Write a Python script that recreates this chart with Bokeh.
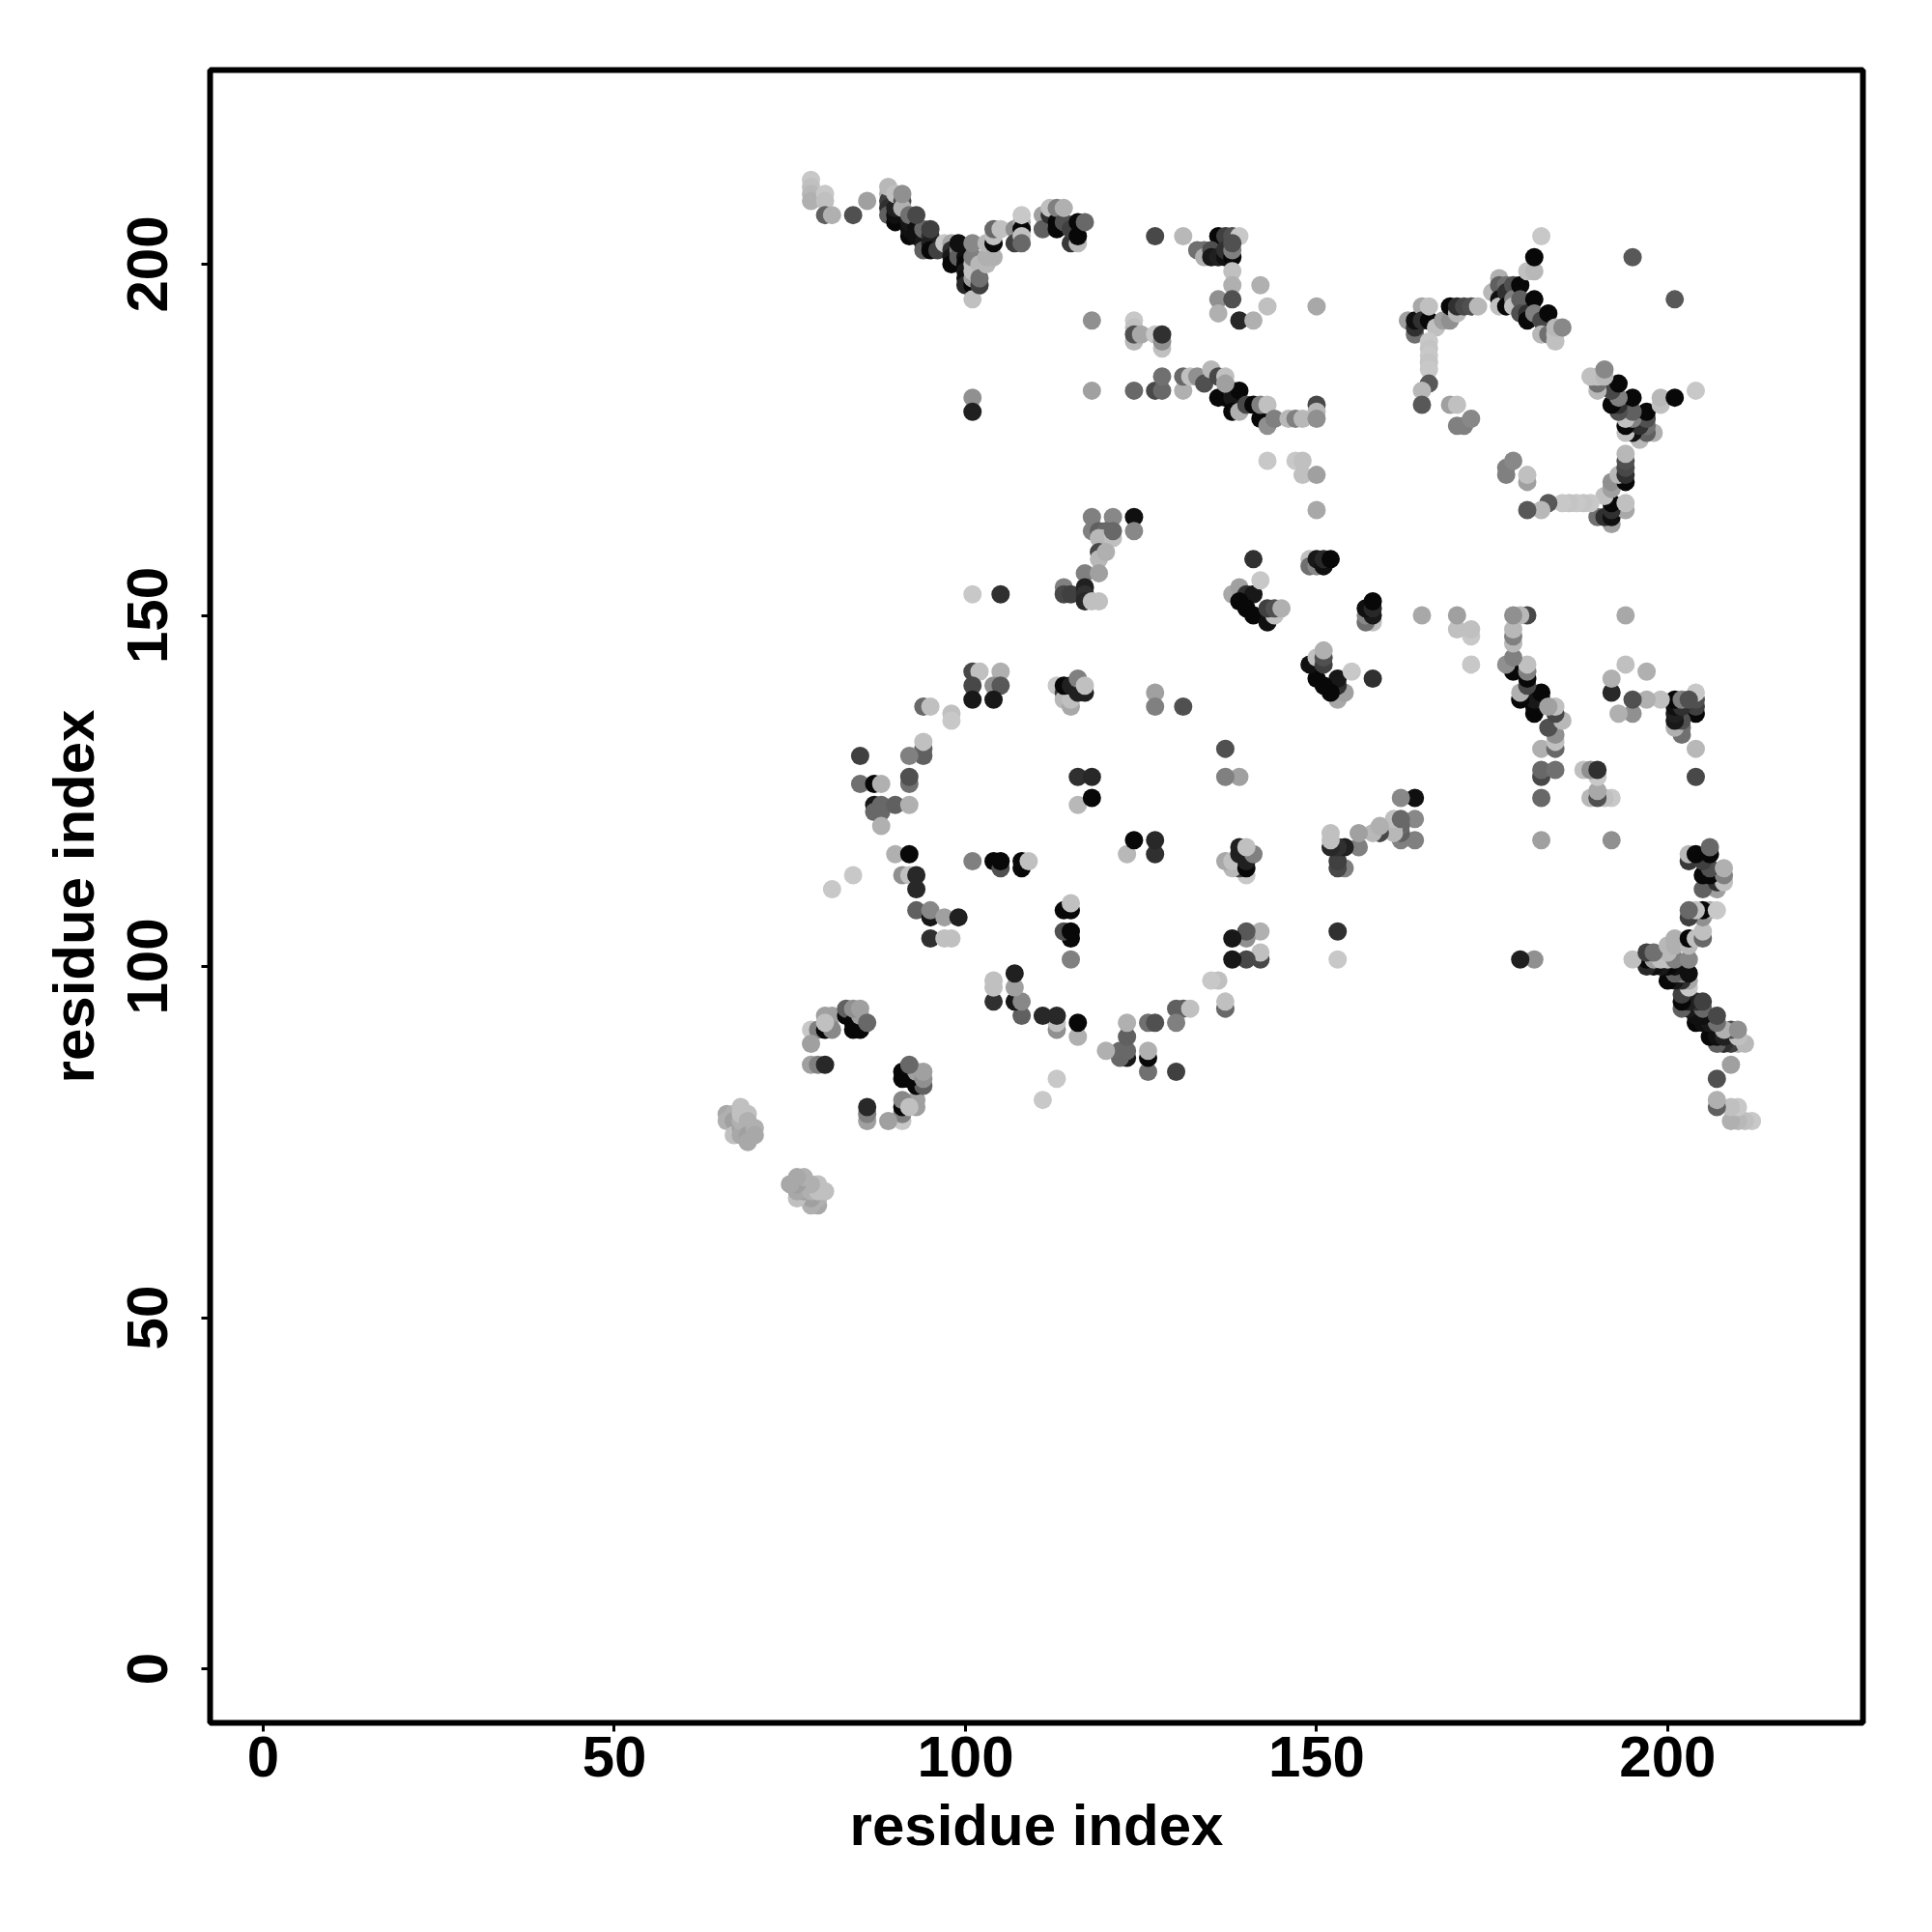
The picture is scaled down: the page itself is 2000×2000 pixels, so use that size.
from bokeh.plotting import figure
from bokeh.models import Range1d, FixedTicker
from bokeh.embed import file_html
from bokeh.resources import INLINE

# (residue i, residue j, grey level) - the map is symmetric, only i<j is listed
cluster_a = [(78,212,200),(78,211,192),(78,210,184),(78,209,176),(80,210,200),(80,209,192),(80,207,96),(81,207,176),(84,207,80),(86,209,160),
(89,210,176),(89,209,64),(89,208,48),(89,207,96),(90,206,8),(90,207,16),(90,208,32),(89,211,184),(90,210,192),(91,209,80),(91,208,176),(91,210,144),
(92,204,8),(92,205,16),(92,206,24),(92,207,112),(93,205,16),(93,204,16),(94,204,16),(94,203,24),(94,202,96),(94,205,104),(93,207,72),(95,204,48),(95,203,32),(95,202,8),(95,205,64),(96,202,64)]
cluster_b = [(97,203,200),(98,203,168),(98,202,48),(98,201,24),(98,200,8),(99,202,128),(99,201,96),(99,203,16),(100,201,16),(100,200,8),(100,199,24),(100,198,16),(100,197,40),
(101,197,8),(101,195,192),(101,198,160),(101,199,192),(101,200,192),(101,201,128),(101,203,136),(102,197,64),(102,200,184),(102,198,112),(103,200,184),(103,201,176),(103,203,184),(104,201,176),(104,203,8),(104,204,192),(104,205,104),(105,205,192),
(107,205,144),(107,203,64),(108,206,168),(108,205,8),(108,204,192),(108,203,104),(108,207,200),(111,207,160),(111,205,96),(112,207,48),(112,208,192),(113,206,8),(113,205,8),(113,208,128),(114,206,80),(114,208,176),(115,203,56),(115,205,64),(116,203,184),(116,204,8),(116,206,8),(117,206,104),(118,192,144),(118,182,160),(101,181,144),(101,179,32)]
cluster_c = [(127,204,72),(131,204,184),(136,204,8),(137,204,64),(138,204,80),(139,204,200),(133,202,112),(134,202,112),(134,201,176),(135,202,80),(135,201,24),(136,201,32),(137,201,16),(137,202,48),(138,201,8),(138,202,128),(138,203,80),
(138,199,192),(138,197,176),(136,195,144),(138,195,80),(136,193,176),(142,197,176),(143,194,192),(139,192,40),(141,192,176),(150,194,168),
(124,192,200),(124,191,192),(124,189,184),(124,190,80),(125,190,168),(127,190,200),(128,188,192),(128,189,144),(128,190,48),
(124,182,104),(127,182,72),(128,182,104),(128,184,112),(131,182,176),(131,184,104),(132,184,192),(133,184,144),(134,183,80),(135,185,184),(136,184,72),(137,184,192),(137,183,160)]
cluster_d = [(136,181,8),(137,181,8),(138,182,96),(138,181,24),(138,179,8),(139,182,8),(139,179,176),(140,180,72),(141,180,8),(142,178,8),(142,180,128),(143,180,192),(143,177,144),(144,178,128),(146,178,184),(147,178,128),(148,178,184),(150,180,72),(150,179,184),(150,178,144),
(143,172,200),(147,172,200),(148,172,192),(148,170,192),(150,170,160),(150,165,168)]
cluster_e = [(163,192,160),(164,190,112),(164,191,48),(164,192,16),(165,194,168),(165,192,48),(166,192,8),(166,194,192),(167,191,192),(168,192,160),(169,192,144),(169,194,8),(170,193,184),(170,194,48),(171,194,72),(172,194,80),(173,194,184),
(166,189,200),(166,188,196),(166,187,200),(166,186,196),(166,185,200),(166,183,88),(165,182,184),(165,180,88),(169,180,160),(170,180,192),(170,177,128),(171,177,128),(172,178,136),
(175,196,184),(176,198,176),(176,197,96),(176,195,16),(176,194,192),(177,197,112),(177,196,48),(177,194,8),(178,197,80),(178,195,128),(178,194,192),(179,197,8),(179,195,96),(179,193,80),(180,193,48),(180,192,8),(181,195,8),(181,193,128),(182,192,72),(183,193,8),(182,190,184),(183,190,112),(184,189,192),(184,190,192),(184,191,184),(185,191,136),
(182,204,200),(180,199,192),(181,199,184),(181,201,8),(195,201,88)]
cluster_f = [(118,164,128),(121,164,136),(124,164,16),(124,162,136),(118,162,128),(119,162,96),(120,162,104),(119,161,184),(120,161,184),(121,161,192),(121,162,104),(119,159,72),(119,158,184),(120,159,176),
(117,156,128),(119,156,160),(114,154,128),(114,153,72),(115,153,64),(117,154,32),(117,153,48),(117,152,40),(118,152,192),(119,152,192),(101,153,200),(105,153,48),
(141,158,48),(138,153,168),(139,154,160),(140,153,48),(141,153,24),(139,152,8),(140,151,8),(141,150,8),(143,149,16),(144,150,192),(143,151,64),(144,151,80),(142,155,200),(145,151,176),
(149,158,192),(149,157,112),(150,157,136),(150,158,24),(151,157,16),(151,158,40),(152,158,8)]
cluster_g = [(101,142,72),(102,142,192),(105,142,176),(101,140,72),(104,140,144),(105,140,88),(101,138,24),(104,138,24),(94,137,104),(95,137,192),(98,136,192),(98,135,200),(94,131,96),(94,130,96),(94,132,192),
(113,140,200),(114,139,64),(114,138,184),(115,137,168),(115,138,192),(114,140,8),(115,140,32),(116,139,32),(117,139,32),(116,141,128),(117,140,192),(127,139,160),(127,137,128),(131,137,80),
(85,130,64),(92,130,128),(85,126,112),(87,126,8),(88,126,176),(92,126,112),(92,127,80),(87,123,24),(87,122,104),(88,122,104),(88,123,104),(90,123,96),(92,123,176),(88,120,176),
(90,116,176),(92,116,8),(81,111,200),(84,113,200),(91,113,144),(92,113,192),(93,113,40),(93,111,40),(93,108,96),(95,107,24),(95,108,136),(97,107,160),(99,107,32),(95,104,48),(97,104,192),(98,104,192),
(101,115,128),(104,115,8),(105,114,80),(105,115,8),(108,114,8),(108,115,8),(109,115,192),(116,127,48),(118,127,40),(116,123,184),(118,124,8)]
cluster_h = [(78,91,200),(79,91,128),(80,91,8),(78,89,160),(80,93,160),(81,93,160),(81,91,136),(83,93,8),(83,94,96),(84,92,8),(84,91,8),(85,91,8),(85,93,160),(84,94,144),(85,94,160),(86,92,104),
(78,86,160),(79,86,128),(80,86,40),(80,92,192),
(66,79,168),(66,78,176),(67,79,176),(67,78,160),(67,76,192),(68,77,160),(68,76,168),(68,78,176),(68,79,192),(68,80,192),(69,79,192),(69,78,176),(69,76,160),(69,75,168),(70,77,176),(70,76,168)]

x_ticks = [0, 50, 100, 150, 200]
y_ticks = [0, 50, 100, 150, 200]
x_title = "residue index"
y_title = "residue index"

rows = cluster_h + cluster_g + cluster_f + cluster_d + cluster_c + cluster_e + cluster_a + cluster_b
xs = [r[0] for r in rows] + [r[1] for r in rows]
ys = [r[1] for r in rows] + [r[0] for r in rows]
gs = [r[2] for r in rows] * 2
colors = ["#%02x%02x%02x" % (g, g, g) for g in gs]

p = figure(width=1980, height=1980, output_backend="svg", toolbar_location=None,
           x_range=Range1d(-7.57, 227.8), y_range=Range1d(-7.7, 227.65),
           min_border_left=217, min_border_right=52, min_border_top=72, min_border_bottom=197)
p.scatter(xs, ys, size=19, fill_color=colors, line_color=None)

p.grid.visible = False
p.outline_line_color = "black"
p.outline_line_width = 6
for ax, t, title in ((p.xaxis[0], x_ticks, x_title), (p.yaxis[0], y_ticks, y_title)):
    ax.ticker = FixedTicker(ticks=t)
    ax.axis_line_color = None
    ax.major_tick_in = 0
    ax.major_tick_out = 9
    ax.major_tick_line_width = 3
    ax.major_tick_line_color = "black"
    ax.minor_tick_line_color = None
    ax.major_label_text_font = "Liberation Sans"
    ax.major_label_text_font_style = "bold"
    ax.major_label_text_font_size = "60px"
    ax.major_label_text_color = "black"
    ax.axis_label = title
    ax.axis_label_text_font = "Liberation Sans"
    ax.axis_label_text_font_style = "bold"
    ax.axis_label_text_font_size = "60px"
    ax.axis_label_text_color = "black"
p.yaxis[0].major_label_orientation = "vertical"
p.xaxis[0].major_label_standoff = 5
p.yaxis[0].major_label_standoff = 35
p.xaxis[0].axis_label_standoff = 14
p.yaxis[0].axis_label_standoff = 20

open("out.html", "w").write(file_html(p, INLINE))
